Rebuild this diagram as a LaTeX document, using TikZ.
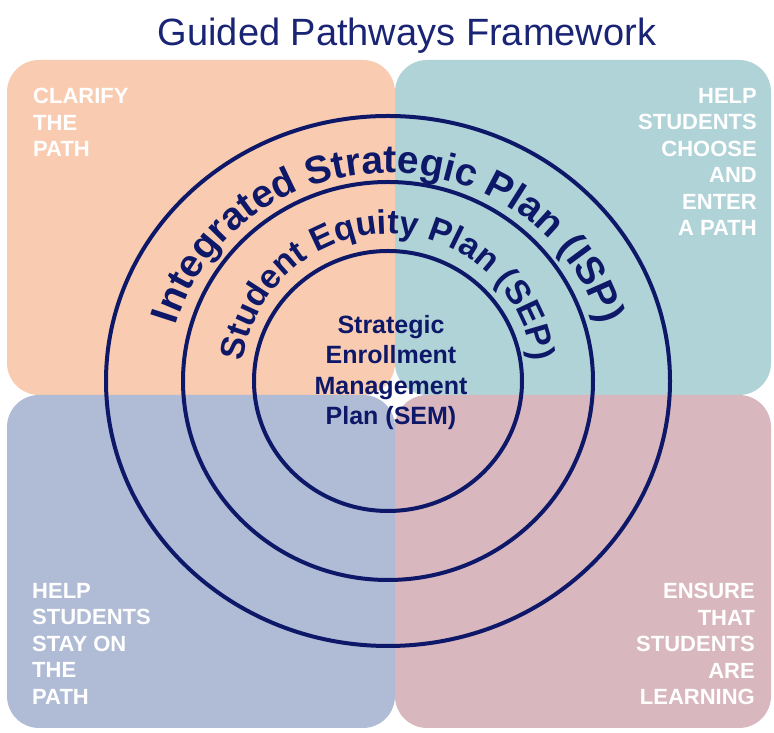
\documentclass[tikz,border=0pt]{standalone}
\usepackage{fontspec}
\setmainfont{Liberation Sans}
\usepackage{tikz}
\usetikzlibrary{shapes.geometric, decorations.text}
\definecolor{ringcolor}{RGB}{14,24,104}
\definecolor{titlecolor}{RGB}{26,36,116}
\definecolor{clarifycolor}{RGB}{249,204,178}
\definecolor{choosecolor}{RGB}{176,211,216}
\definecolor{staycolor}{RGB}{176,187,213}
\definecolor{learncolor}{RGB}{217,183,190}

\begin{document}
\begin{tikzpicture}[
    x=1pt, y=1pt,
    quadrant/.style={rectangle, rounded corners=32pt, inner sep=0pt, draw=none},
    corner/.style={inner sep=0pt, text=white, font=\fontsize{22}{26.5}\selectfont\bfseries},
    ring/.style={draw=ringcolor, line width=4pt},
    ringtext/.style={decorate, decoration={text along path, text align=center, text color=ringcolor, text={#1}}},
    semtext/.style={inner sep=0pt, align=center, text=ringcolor, font=\fontsize{25}{30.5}\selectfont\bfseries}
]
    \useasboundingbox (0,0) rectangle (774,733);

    % Title
    \node[anchor=base, inner sep=0pt, text=titlecolor, font=\fontsize{38}{44}\selectfont] (title) at (407,687) {Guided Pathways Framework};

    % Quadrants
    \node[quadrant, fill=clarifycolor, minimum width=388pt, minimum height=335pt] (clarify) at (201,505.5) {};
    \node[quadrant, fill=choosecolor, minimum width=376pt, minimum height=335pt] (choose) at (583,505.5) {};
    \node[quadrant, fill=staycolor, minimum width=388pt, minimum height=333pt] (stay) at (201,171.5) {};
    \node[quadrant, fill=learncolor, minimum width=376pt, minimum height=333pt] (learn) at (583,171.5) {};

    \node[corner, anchor=north west, align=left] (clarifytext) at (33,645) {CLARIFY\\THE\\PATH};
    \node[corner, anchor=north east, align=right] (choosetext) at (757,645) {HELP\\STUDENTS\\CHOOSE\\AND\\ENTER\\A PATH};
    \node[corner, anchor=north west, align=left] (staytext) at (32,150) {HELP\\STUDENTS\\STAY ON\\THE\\PATH};
    \node[corner, anchor=north east, align=right] (learntext) at (755,150) {ENSURE\\THAT\\STUDENTS\\ARE\\LEARNING};

    % Plan rings
    \coordinate (hub) at (388,352);
    \draw[ring] (hub) ellipse[x radius=282, y radius=265];
    \draw[ring] (hub) ellipse[x radius=205, y radius=199];
    \draw[ring] (hub) ellipse[x radius=134, y radius=130];

    % Ring labels
    \path[ringtext={|\fontsize{39}{39}\selectfont\bfseries|Integrated Strategic Plan (ISP)}]
        (168,352) arc[start angle=180, end angle=0, x radius=220, y radius=208];
    \path[ringtext={|\fontsize{34}{34}\selectfont\bfseries|Student Equity Plan (SEP)}]
        (242,352) arc[start angle=180, end angle=0, x radius=146, y radius=147];

    \node[semtext, anchor=north] (sem) at (391,418) {Strategic\\Enrollment\\Management\\Plan (SEM)};
\end{tikzpicture}
\end{document}
